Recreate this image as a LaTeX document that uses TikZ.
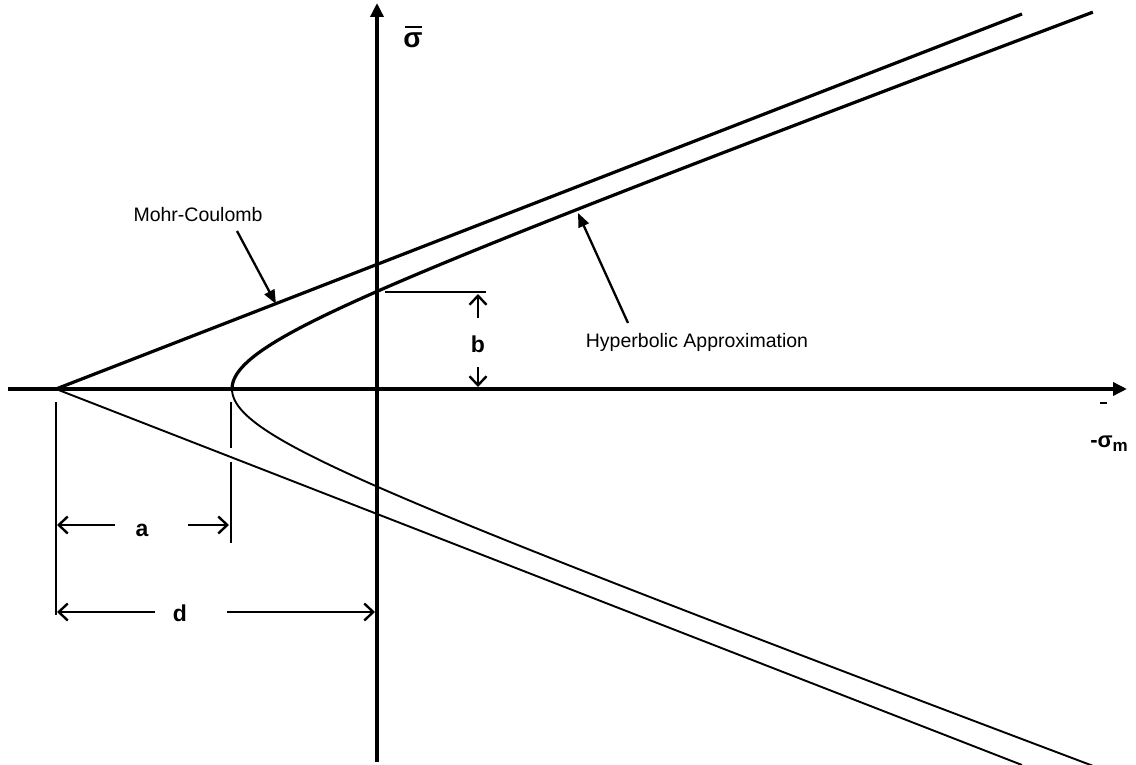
\documentclass[tikz,border=0pt]{standalone}
\usepackage{fontspec}
\setmainfont{Liberation Sans}
\usetikzlibrary{arrows.meta}
\begin{document}
\begin{tikzpicture}[x=1pt,y=-1pt,
  axis/.style={line width=3.4pt,-{Triangle[length=14pt,width=13pt]}},
  thickln/.style={line width=3.2pt},
  thinln/.style={line width=1.9pt},
  tickln/.style={line width=1.9pt},
  dim/.style={line width=2.4pt,-{Straight Barb[length=9pt,width=17pt,line width=2.4pt]}},
  callout/.style={line width=2.3pt,-{Triangle[length=14pt,width=11pt]}},
  lbl/.style={font=\fontsize{19.5}{22}\selectfont,inner sep=0pt},
  blbl/.style={font=\bfseries\fontsize{23}{26}\selectfont,inner sep=0pt}]
\useasboundingbox (0,0) rectangle (1136,765);
% key points
\coordinate (apex) at (56,389);
\coordinate (xl) at (8,389);
\coordinate (xr) at (1127,389);
\coordinate (yb) at (377,762);
\coordinate (yt) at (377,3);
\coordinate (mcu) at (1022,14);
\coordinate (mcl) at (1022,765);
% axes
\draw[axis] (xl) -- (xr);
\draw[axis] (yb) -- (yt);
% Mohr-Coulomb lines
\draw[thickln] (apex) -- (mcu);
\draw[thinln] (apex) -- (mcl);
% hyperbola
\draw[thickln] plot[domain=0:2.52,samples=90,variable=\t] ({68+164*cosh(\t)},{389-61.09*sinh(\t)});
\draw[thinln] plot[domain=0:2.52,samples=90,variable=\t] ({68+164*cosh(\t)},{389+61.09*sinh(\t)});
% extension ticks
\coordinate (ta1) at (56,402); \coordinate (ta2) at (56,615);
\coordinate (tb1) at (231,402); \coordinate (tb2) at (231,448);
\coordinate (tb3) at (231,462); \coordinate (tb4) at (231,543);
\draw[tickln] (ta1) -- (ta2);
\draw[tickln] (tb1) -- (tb2);
\draw[tickln] (tb3) -- (tb4);
\coordinate (hb1) at (385,292); \coordinate (hb2) at (486,292);
\draw[tickln] (hb1) -- (hb2);
% dimension b
\node[blbl] (blab) at (478,344) {b};
\coordinate (bt) at (478,294); \coordinate (bb) at (478,387);
\coordinate (bs1) at (478,318); \coordinate (bs2) at (478,367);
\draw[dim] (bs1) -- (bt);
\draw[dim] (bs2) -- (bb);
% dimension a
\node[blbl] (alab) at (142,530) {a};
\coordinate (al) at (57,525); \coordinate (ar) at (229,525);
\coordinate (as1) at (115,525); \coordinate (as2) at (188,525);
\draw[dim] (as1) -- (al);
\draw[dim] (as2) -- (ar);
% dimension d
\node[blbl] (dlab) at (180,613) {d};
\coordinate (dl) at (57,612); \coordinate (dr) at (375,612);
\coordinate (ds1) at (155,612); \coordinate (ds2) at (227,612);
\draw[dim] (ds1) -- (dl);
\draw[dim] (ds2) -- (dr);
% callouts
\node[lbl] (mclab) at (198,215) {Mohr-Coulomb};
\coordinate (mcs) at (237,231); \coordinate (mct) at (276,304);
\draw[callout] (mcs) -- (mct);
\node[lbl] (hylab) at (697,342) {Hyperbolic Approximation};
\coordinate (hys) at (628,323); \coordinate (hyt) at (578,213);
\draw[callout] (hys) -- (hyt);
% axis labels
\node[font=\bfseries\fontsize{28}{30}\selectfont,inner sep=0pt] (sig) at (413,40) {σ};
\coordinate (sb1) at (405,27); \coordinate (sb2) at (422,27);
\draw[line width=2pt] (sb1) -- (sb2);
\node[font=\bfseries\fontsize{22}{25}\selectfont,inner sep=0pt] (sigm) at (1109,444) {-σ\raisebox{-4pt}{\fontsize{17}{17}\selectfont m}};
\coordinate (mb1) at (1100,403); \coordinate (mb2) at (1107,403);
\draw[line width=1.2pt] (mb1) -- (mb2);
\end{tikzpicture}
\end{document}
